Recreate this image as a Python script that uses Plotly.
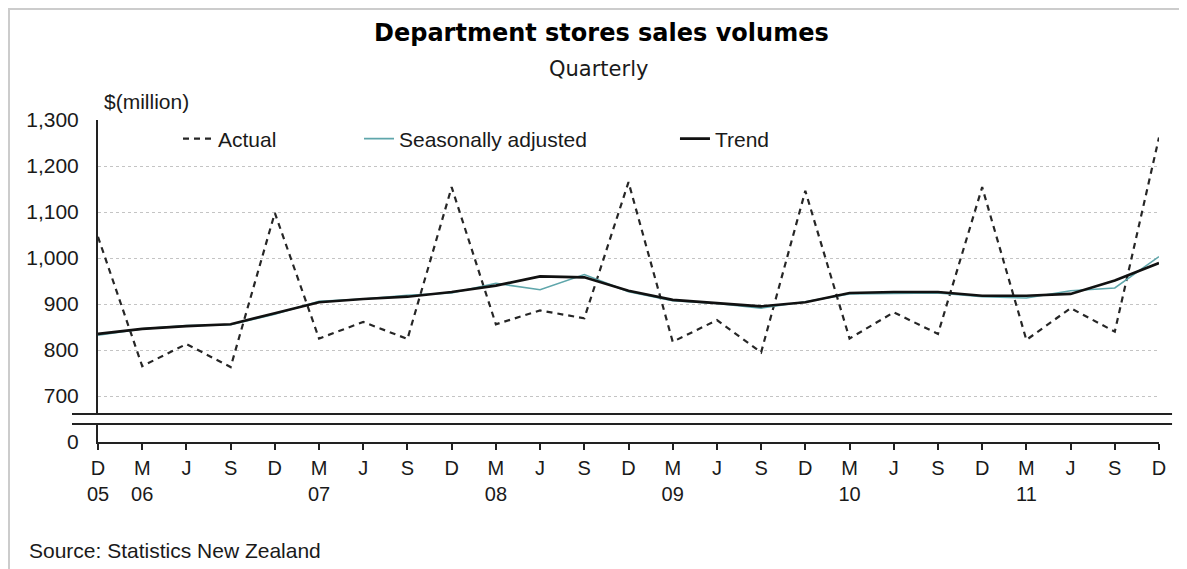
import plotly.graph_objects as go

# quarterly periods, Dec 2005 .. Dec 2011
quarters = [
    "Dec 2005", "Mar 2006", "Jun 2006", "Sep 2006", "Dec 2006",
    "Mar 2007", "Jun 2007", "Sep 2007", "Dec 2007",
    "Mar 2008", "Jun 2008", "Sep 2008", "Dec 2008",
    "Mar 2009", "Jun 2009", "Sep 2009", "Dec 2009",
    "Mar 2010", "Jun 2010", "Sep 2010", "Dec 2010",
    "Mar 2011", "Jun 2011", "Sep 2011", "Dec 2011",
]
tick_text = [
    "D<br>05", "M<br>06", "J", "S", "D",
    "M<br>07", "J", "S", "D",
    "M<br>08", "J", "S", "D",
    "M<br>09", "J", "S", "D",
    "M<br>10", "J", "S", "D",
    "M<br>11", "J", "S", "D",
]

# $(million)
actual = [1046, 765, 813, 763, 1098, 825, 861, 824, 1154, 856, 886, 869, 1165,
          818, 865, 795, 1146, 825, 882, 835, 1154, 822, 891, 840, 1262]
seasonally_adjusted = [832, 846, 853, 855, 878, 906, 911, 919, 924, 945, 931, 964, 927,
                       907, 901, 891, 905, 922, 923, 924, 916, 913, 929, 935, 1003]
trend = [835, 846, 852, 856, 880, 904, 911, 916, 926, 940, 960, 958, 929,
         909, 902, 895, 904, 924, 926, 926, 918, 918, 922, 951, 989]

y_ticks = [700, 800, 900, 1000, 1100, 1200, 1300]

FONT = "Liberation Sans, Arial, sans-serif"
WIDE = "DejaVu Sans, Verdana, sans-serif"
INK = "#1a1a1a"
AXIS = "#222222"

fig = go.Figure()
fig.add_trace(go.Scatter(
    x=quarters, y=actual, name="Actual", mode="lines",
    line=dict(color="#262626", width=2.2, dash="6px,5px"),
    legend="legend2",
))
fig.add_trace(go.Scatter(
    x=quarters, y=seasonally_adjusted, name="Seasonally adjusted", mode="lines",
    line=dict(color="#5fa6ab", width=1.6),
    legend="legend3",
))
fig.add_trace(go.Scatter(
    x=quarters, y=trend, name="Trend", mode="lines",
    line=dict(color="#111111", width=2.6),
    legend="legend4",
))
# empty trace so the lower (zero) axis segment gets its own subplot
fig.add_trace(go.Scatter(x=[], y=[], xaxis="x", yaxis="y2", showlegend=False))

legend_common = dict(
    orientation="h", yanchor="middle", y=0.941, xanchor="left",
    bgcolor="rgba(0,0,0,0)", font=dict(family=FONT, size=21, color=INK),
)

# the page body adds an 8px offset, so the figure is 8px smaller
fig.update_layout(
    width=1179, height=561,
    margin=dict(l=90, r=28, t=112, b=127, autoexpand=False),
    paper_bgcolor="white", plot_bgcolor="white",
    font=dict(family=FONT, size=21, color=INK),
    showlegend=True,
    xaxis=dict(
        type="category", range=[0, len(quarters) - 1], anchor="y2",
        tickvals=quarters, ticktext=tick_text,
        ticks="outside", ticklen=6, tickwidth=2, tickcolor=AXIS,
        showline=True, linecolor=AXIS, linewidth=2,
        showgrid=False, zeroline=False, ticklabelstandoff=1,
        tickfont=dict(family=FONT, size=20, color=INK),
    ),
    yaxis=dict(
        domain=[0.087, 1], range=[661, 1300],
        tickvals=y_ticks, tickformat=",",
        showline=True, linecolor=AXIS, linewidth=2,
        showgrid=True, gridcolor="#c4c4c4", griddash="dot", gridwidth=1,
        zeroline=False, ticks="", ticklabelstandoff=13,
        tickfont=dict(family=FONT, size=21, color=INK),
    ),
    yaxis2=dict(
        domain=[0, 0.056], range=[0, 40], tickvals=[0],
        showline=True, linecolor=AXIS, linewidth=2,
        showgrid=False, zeroline=False, ticks="", ticklabelstandoff=13,
        tickfont=dict(family=FONT, size=21, color=INK),
    ),
    legend=dict(visible=False),
    legend2=dict(x=0.0754, **legend_common),
    legend3=dict(x=0.246, **legend_common),
    legend4=dict(x=0.5438, **legend_common),
    annotations=[
        dict(text="<b>Department stores sales volumes</b>", xref="paper", yref="paper",
             x=0.4745, y=1.270, xanchor="center", yanchor="middle", showarrow=False,
             font=dict(family=WIDE, size=24, color="#000000")),
        dict(text="Quarterly", xref="paper", yref="paper",
             x=0.4717, y=1.158, xanchor="center", yanchor="middle", showarrow=False,
             font=dict(family=WIDE, size=21, color=INK)),
        dict(text="$(million)", xref="paper", yref="paper", x=0.004, y=1.059,
             xanchor="left", yanchor="middle", showarrow=False,
             font=dict(family=FONT, size=21, color=INK)),
        dict(text="Source: Statistics New Zealand", xref="paper", yref="paper",
             x=-0.067, y=-0.3385, xanchor="left", yanchor="middle", showarrow=False,
             font=dict(family=FONT, size=21, color=INK)),
    ],
    shapes=[
        # axis break lines
        dict(type="line", xref="paper", yref="paper", x0=-0.0245, x1=1.0123,
             y0=0.087, y1=0.087, line=dict(color=AXIS, width=2)),
        dict(type="line", xref="paper", yref="paper", x0=-0.0245, x1=1.0123,
             y0=0.0559, y1=0.0559, line=dict(color=AXIS, width=2)),
        # outer frame (only top and left edges fall inside the picture)
        dict(type="rect", xref="paper", yref="paper",
             x0=-0.0839, x1=1.06, y0=-0.45, y1=1.3447,
             line=dict(color="#cccccc", width=2)),
    ],
)

fig.write_html("out.html")
